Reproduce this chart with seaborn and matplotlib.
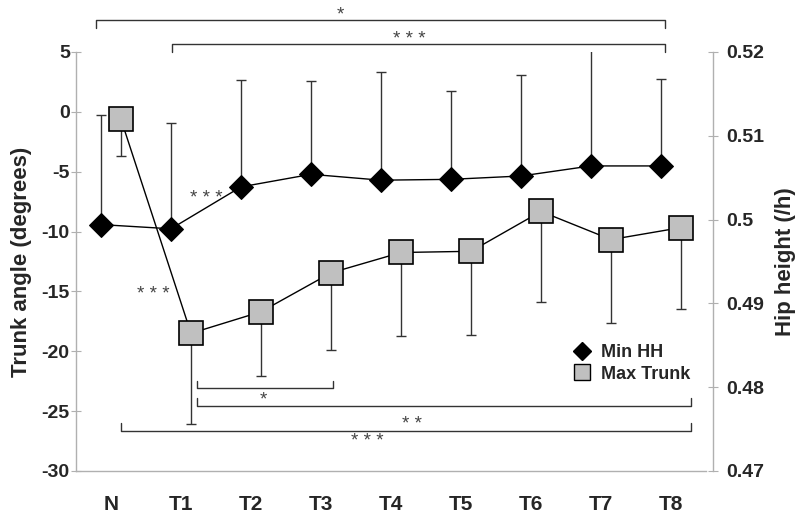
import numpy as np
import seaborn as sns
import matplotlib.pyplot as plt
from matplotlib.lines import Line2D

# Values
sessions = ["N", "T1", "T2", "T3", "T4", "T5", "T6", "T7", "T8"]
min_hh = [0.4994, 0.4989, 0.5039, 0.5054, 0.5047, 0.5048, 0.5052, 0.5064, 0.5064]
min_hh_sd = [0.0131, 0.0126, 0.0128, 0.0111, 0.0129, 0.0105, 0.0121, 0.0140, 0.0104]
max_trunk = [-0.63, -18.5, -16.7, -13.45, -11.75, -11.65, -8.32, -10.67, -9.67]
max_trunk_sd = [3.1, 7.6, 5.4, 6.45, 6.95, 6.95, 7.55, 6.95, 6.8]

sns.set_style("white")
plt.rcParams['font.family'] = ['Liberation Sans', 'DejaVu Sans']
plt.rcParams['font.weight'] = 'bold'
plt.rcParams['axes.unicode_minus'] = False

fig = plt.figure(figsize=(8, 5.17), dpi=100)
ax = fig.add_axes([0.095, 0.089, 0.7875, 0.8105])
ax2 = ax.twinx()

pos = np.arange(len(sessions))
off = 0.143
axis_grey = "#b0b0b0"

# Max Trunk (left axis), error bars downward
ax.errorbar(pos + off, max_trunk, yerr=[max_trunk_sd, np.zeros(len(pos))],
            fmt='none', ecolor='#333333', elinewidth=1, capsize=3.5, capthick=1, zorder=1)
sns.lineplot(x=pos + off, y=max_trunk, ax=ax, color='black', linewidth=1,
             marker='s', markersize=17, markerfacecolor='#c0c0c0',
             markeredgecolor='black', markeredgewidth=1.2, zorder=2)

# Min HH (right axis), error bars upward
ax2.errorbar(pos - off, min_hh, yerr=[np.zeros(len(pos)), min_hh_sd],
             fmt='none', ecolor='#333333', elinewidth=1, capsize=3.5, capthick=1, zorder=1)
sns.lineplot(x=pos - off, y=min_hh, ax=ax2, color='black', linewidth=1,
             marker='D', markersize=12.5, markerfacecolor='black',
             markeredgecolor='black', zorder=2)

ax.set_xlim(-0.5, 8.5)
ax.set_ylim(-30, 5)
ax2.set_ylim(0.47, 0.52)
ax.set_yticks(range(-30, 6, 5))
ax2.set_yticks([0.47, 0.48, 0.49, 0.5, 0.51, 0.52])
ax2.set_yticklabels(["0.47", "0.48", "0.49", "0.5", "0.51", "0.52"])
ax.set_xticks(pos)
ax.set_xticklabels(sessions)
ax.set_xticks(np.arange(0.5, 8, 1), minor=True)

for a in (ax, ax2):
    for s in a.spines.values():
        s.set_visible(False)
        s.set_color(axis_grey)
        s.set_linewidth(1)
ax.spines['left'].set_visible(True)
ax.spines['bottom'].set_visible(True)
ax2.spines['right'].set_visible(True)
ax2.spines['right'].set_position(('outward', 5))

ax.tick_params(axis='y', direction='inout', length=7, color=axis_grey, labelsize=14, pad=1)
ax.tick_params(axis='x', which='major', length=0, labelsize=15, pad=17)
ax.tick_params(axis='x', which='minor', direction='inout', length=9, color=axis_grey)
ax2.tick_params(axis='y', direction='inout', length=7, color=axis_grey, labelsize=14, pad=6)
for lab in ax.get_xticklabels() + ax.get_yticklabels() + ax2.get_yticklabels():
    lab.set_fontweight('bold')

ax.set_ylabel("Trunk angle (degrees)", fontsize=16, fontweight='bold', labelpad=7)
ax2.set_ylabel("Hip height (/h)", fontsize=16, fontweight='bold', labelpad=8)
ax.set_xlabel("")

# significance brackets (left axis units)
def bracket(x0, x1, y, dy):
    ax.plot([x0, x0, x1, x1], [y + dy, y, y, y + dy], color='#333333',
            linewidth=1, clip_on=False, zorder=3)

star_kw = dict(fontsize=13.5, color='#444444', fontweight='normal', ha='center', va='center')
bracket(-0.21, 7.91, 7.7, -0.7)
bracket(0.87, 7.91, 5.7, -0.7)
ax.text(3.28, 8.1, "*", clip_on=False, **star_kw)
ax.text(4.26, 6.05, "* * *", clip_on=False, **star_kw)

bracket(1.23, 3.17, -23.08, 0.6)
bracket(1.23, 8.29, -24.58, 0.65)
bracket(0.14, 8.29, -26.67, 0.65)
ax.text(2.17, -24.1, "*", **star_kw)
ax.text(4.3, -26.1, "* *", **star_kw)
ax.text(3.66, -27.55, "* * *", **star_kw)

ax.text(1.36, -7.2, "* * *", **star_kw)
ax.text(0.61, -15.3, "* * *", **star_kw)

handles = [Line2D([], [], linestyle='none', marker='D', markersize=9, color='black'),
           Line2D([], [], linestyle='none', marker='s', markersize=11, markerfacecolor='#c0c0c0',
                  markeredgecolor='black', markeredgewidth=1)]
leg = fig.legend(handles, ["Min HH", "Max Trunk"], loc='center left',
                 bbox_to_anchor=(0.705, 0.297), frameon=False,
                 handlelength=1.0, handletextpad=0.55, borderpad=0, labelspacing=0.25,
                 prop={'weight': 'bold', 'size': 13})

fig.savefig("out.png", dpi=100)
